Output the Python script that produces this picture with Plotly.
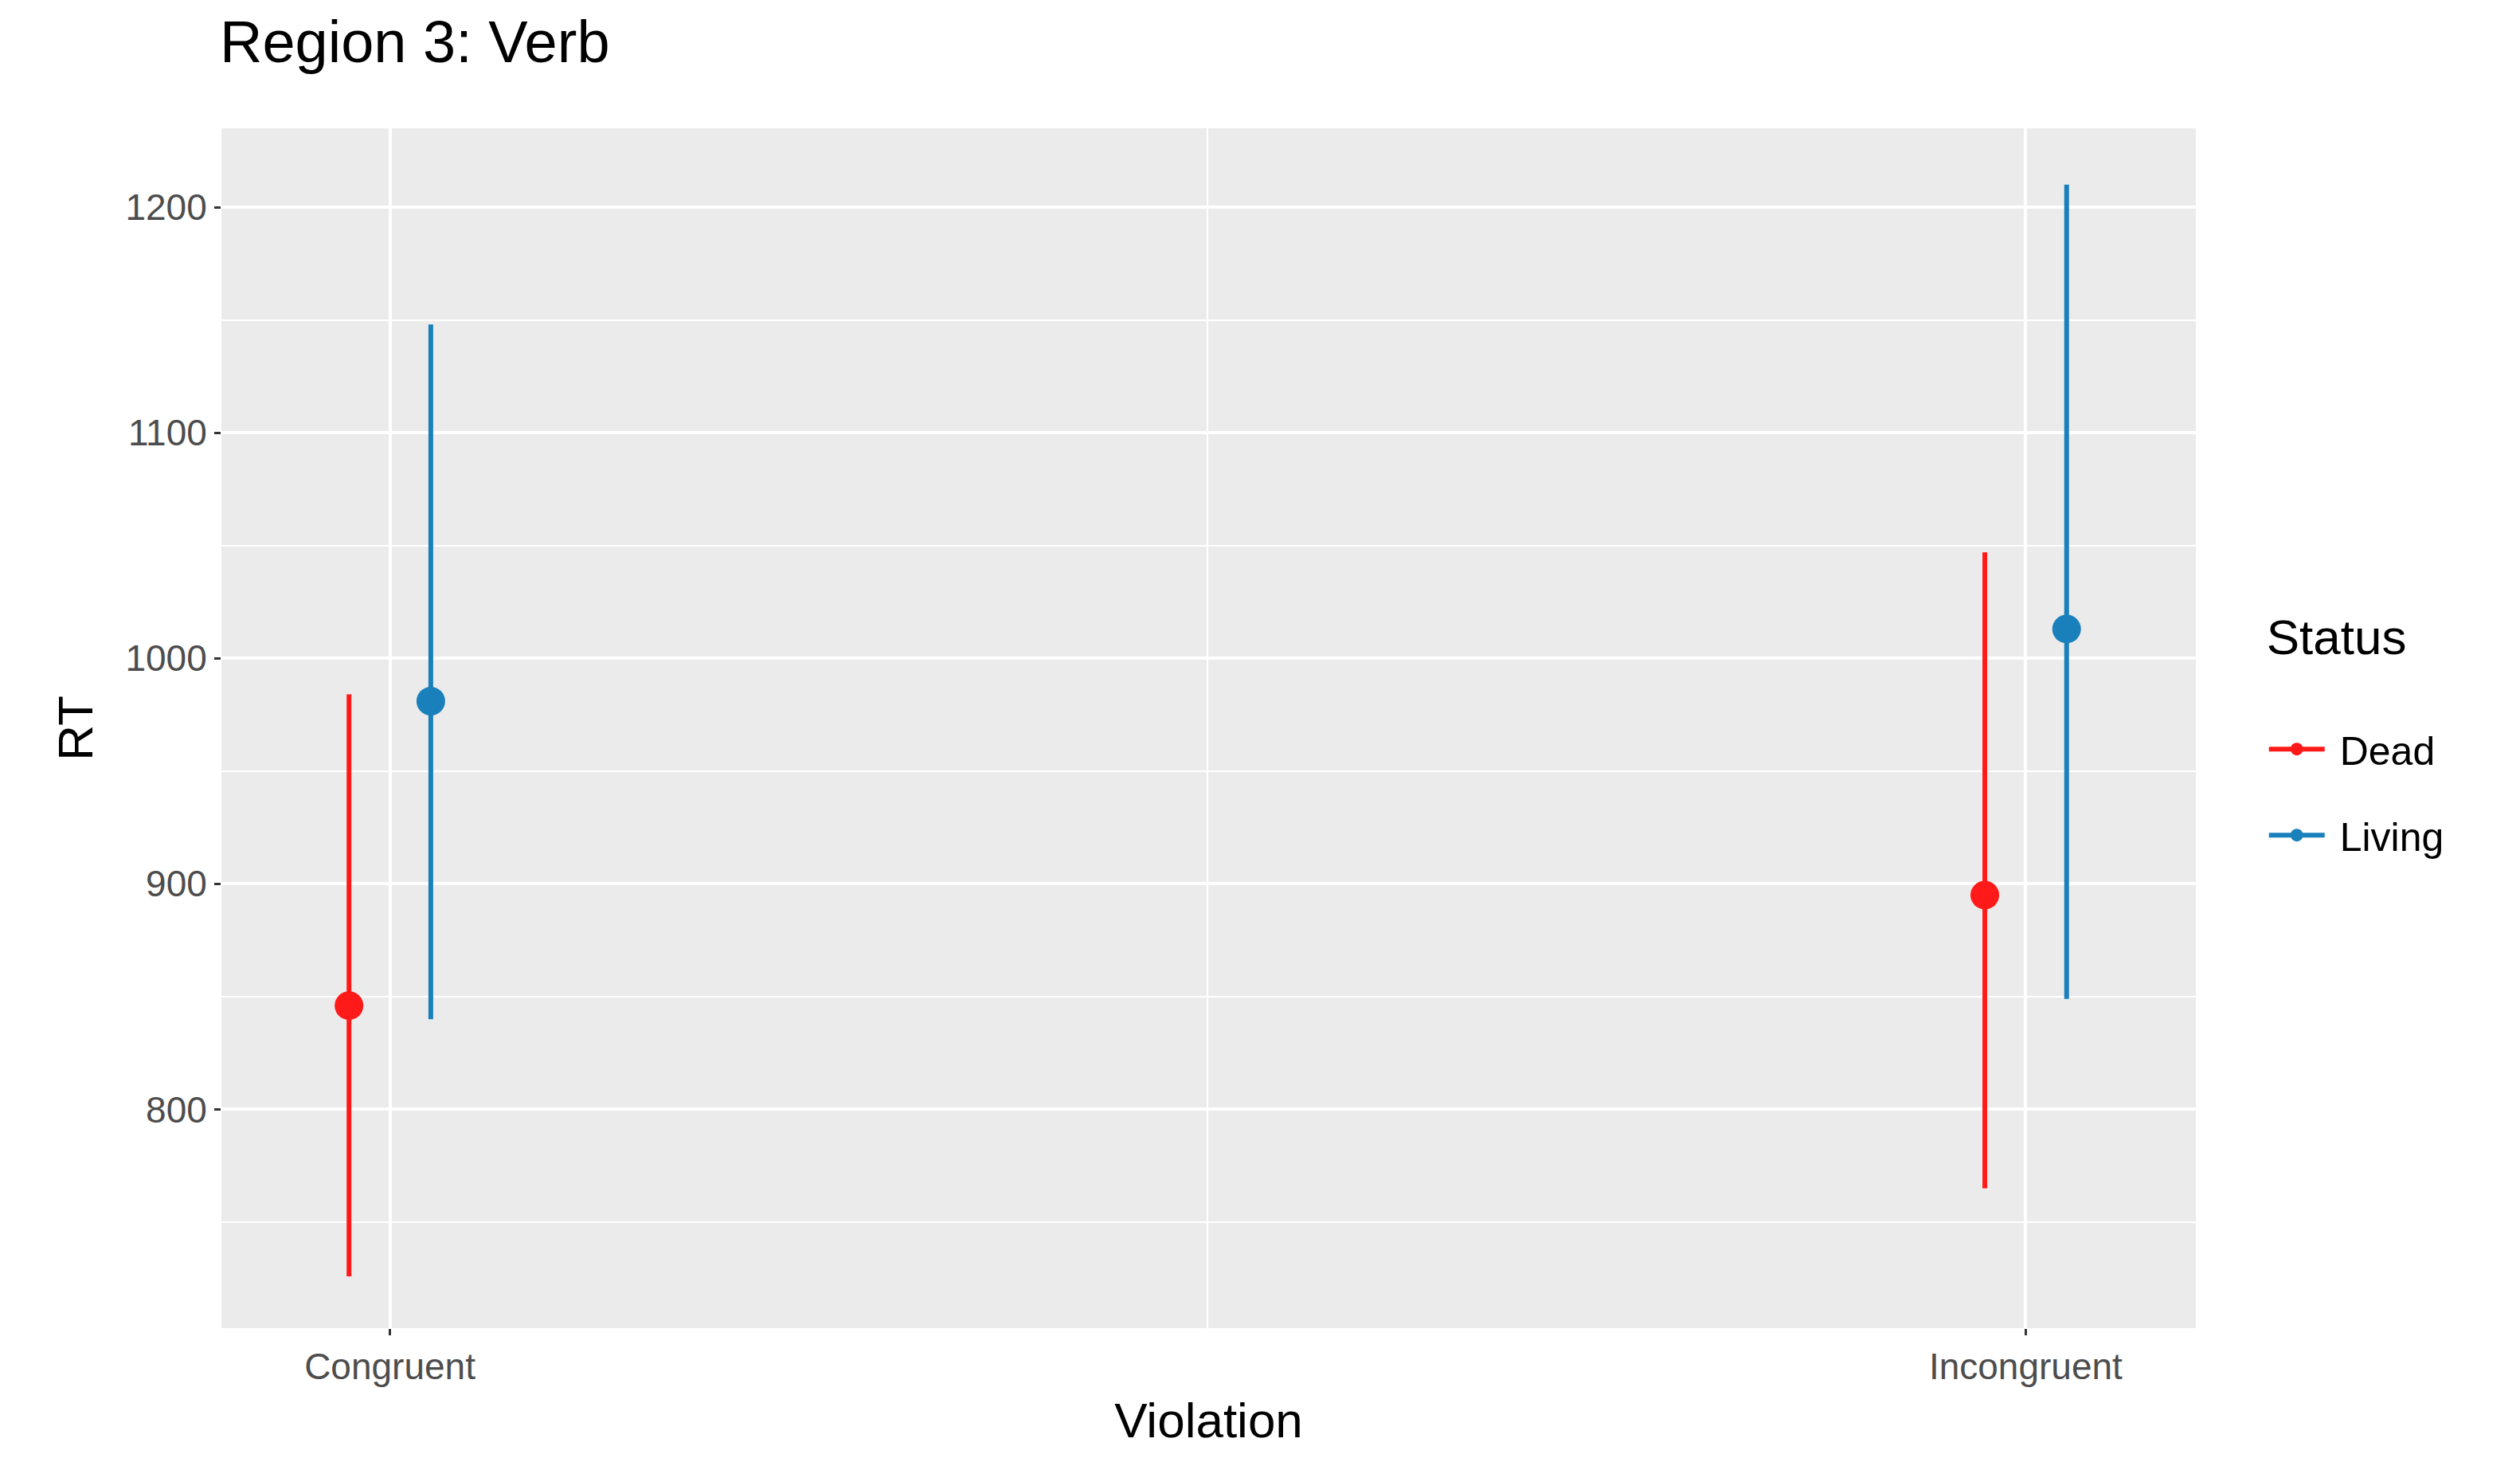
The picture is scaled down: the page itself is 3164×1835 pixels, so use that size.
import plotly.graph_objects as go

# valores
violation = ['Congruent', 'Incongruent']
status = ['Dead', 'Living']
rt_mean = {'Dead': [846, 895], 'Living': [981, 1013]}
rt_low = {'Dead': [726, 765], 'Living': [840, 849]}
rt_high = {'Dead': [984, 1047], 'Living': [1148, 1210]}
cores = {'Dead': '#FF1A1A', 'Living': '#1A80BB'}
dodge = {'Dead': -0.025, 'Living': 0.025}

fig = go.Figure()
for s in status:
    xs, ys, up, dn = [], [], [], []
    for i in range(len(violation)):
        if i > 0:
            xs.append(None); ys.append(None); up.append(0); dn.append(0)
        xs.append(i + dodge[s])
        ys.append(rt_mean[s][i])
        up.append(rt_high[s][i] - rt_mean[s][i])
        dn.append(rt_mean[s][i] - rt_low[s][i])
    fig.add_trace(go.Scatter(
        x=xs, y=ys, mode='lines+markers', name=' ' + s, connectgaps=False,
        legendgroup=s,
        marker=dict(color=cores[s], size=36),
        line=dict(color=cores[s], width=6),
        error_y=dict(type='data', array=up, arrayminus=dn, width=0,
                     thickness=6, color=cores[s])))

fig.update_layout(
    width=3164, height=1835,
    margin=dict(l=270, r=415, t=153, b=176),
    paper_bgcolor='white', plot_bgcolor='#EBEBEB',
    font=dict(family='Liberation Sans, Arial', size=46, color='#4D4D4D'),
    title=dict(text='Region 3: Verb', x=268 / 3164, xanchor='left', y=0.99, yanchor='top',
               font=dict(size=74, color='black')),
    legend=dict(title=dict(text='Status<br> ', font=dict(size=62, color='black')),
                font=dict(size=50, color='black'), x=1.035, y=0.5, yanchor='middle',
                bgcolor='white', itemwidth=70, tracegroupgap=40),
)
fig.update_xaxes(
    title=dict(text='Violation', font=dict(size=62, color='black'), standoff=20),
    tickvals=[0, 1], ticktext=violation, range=[-0.103, 1.104],
    showgrid=True, gridcolor='white', gridwidth=4, zeroline=False,
    ticks='outside', ticklen=8, tickcolor='#333333', tickwidth=3,
    minor=dict(tickvals=[0.5], showgrid=True, gridcolor='white', gridwidth=2))
fig.update_yaxes(
    title=dict(text='RT', font=dict(size=62, color='black'), standoff=20),
    tickvals=[800, 900, 1000, 1100, 1200], range=[703, 1235],
    showgrid=True, gridcolor='white', gridwidth=4, zeroline=False,
    ticks='outside', ticklen=8, tickcolor='#333333', tickwidth=3,
    minor=dict(tickvals=[750, 850, 950, 1050, 1150], showgrid=True, gridcolor='white', gridwidth=2))

fig.write_html('out.html')
